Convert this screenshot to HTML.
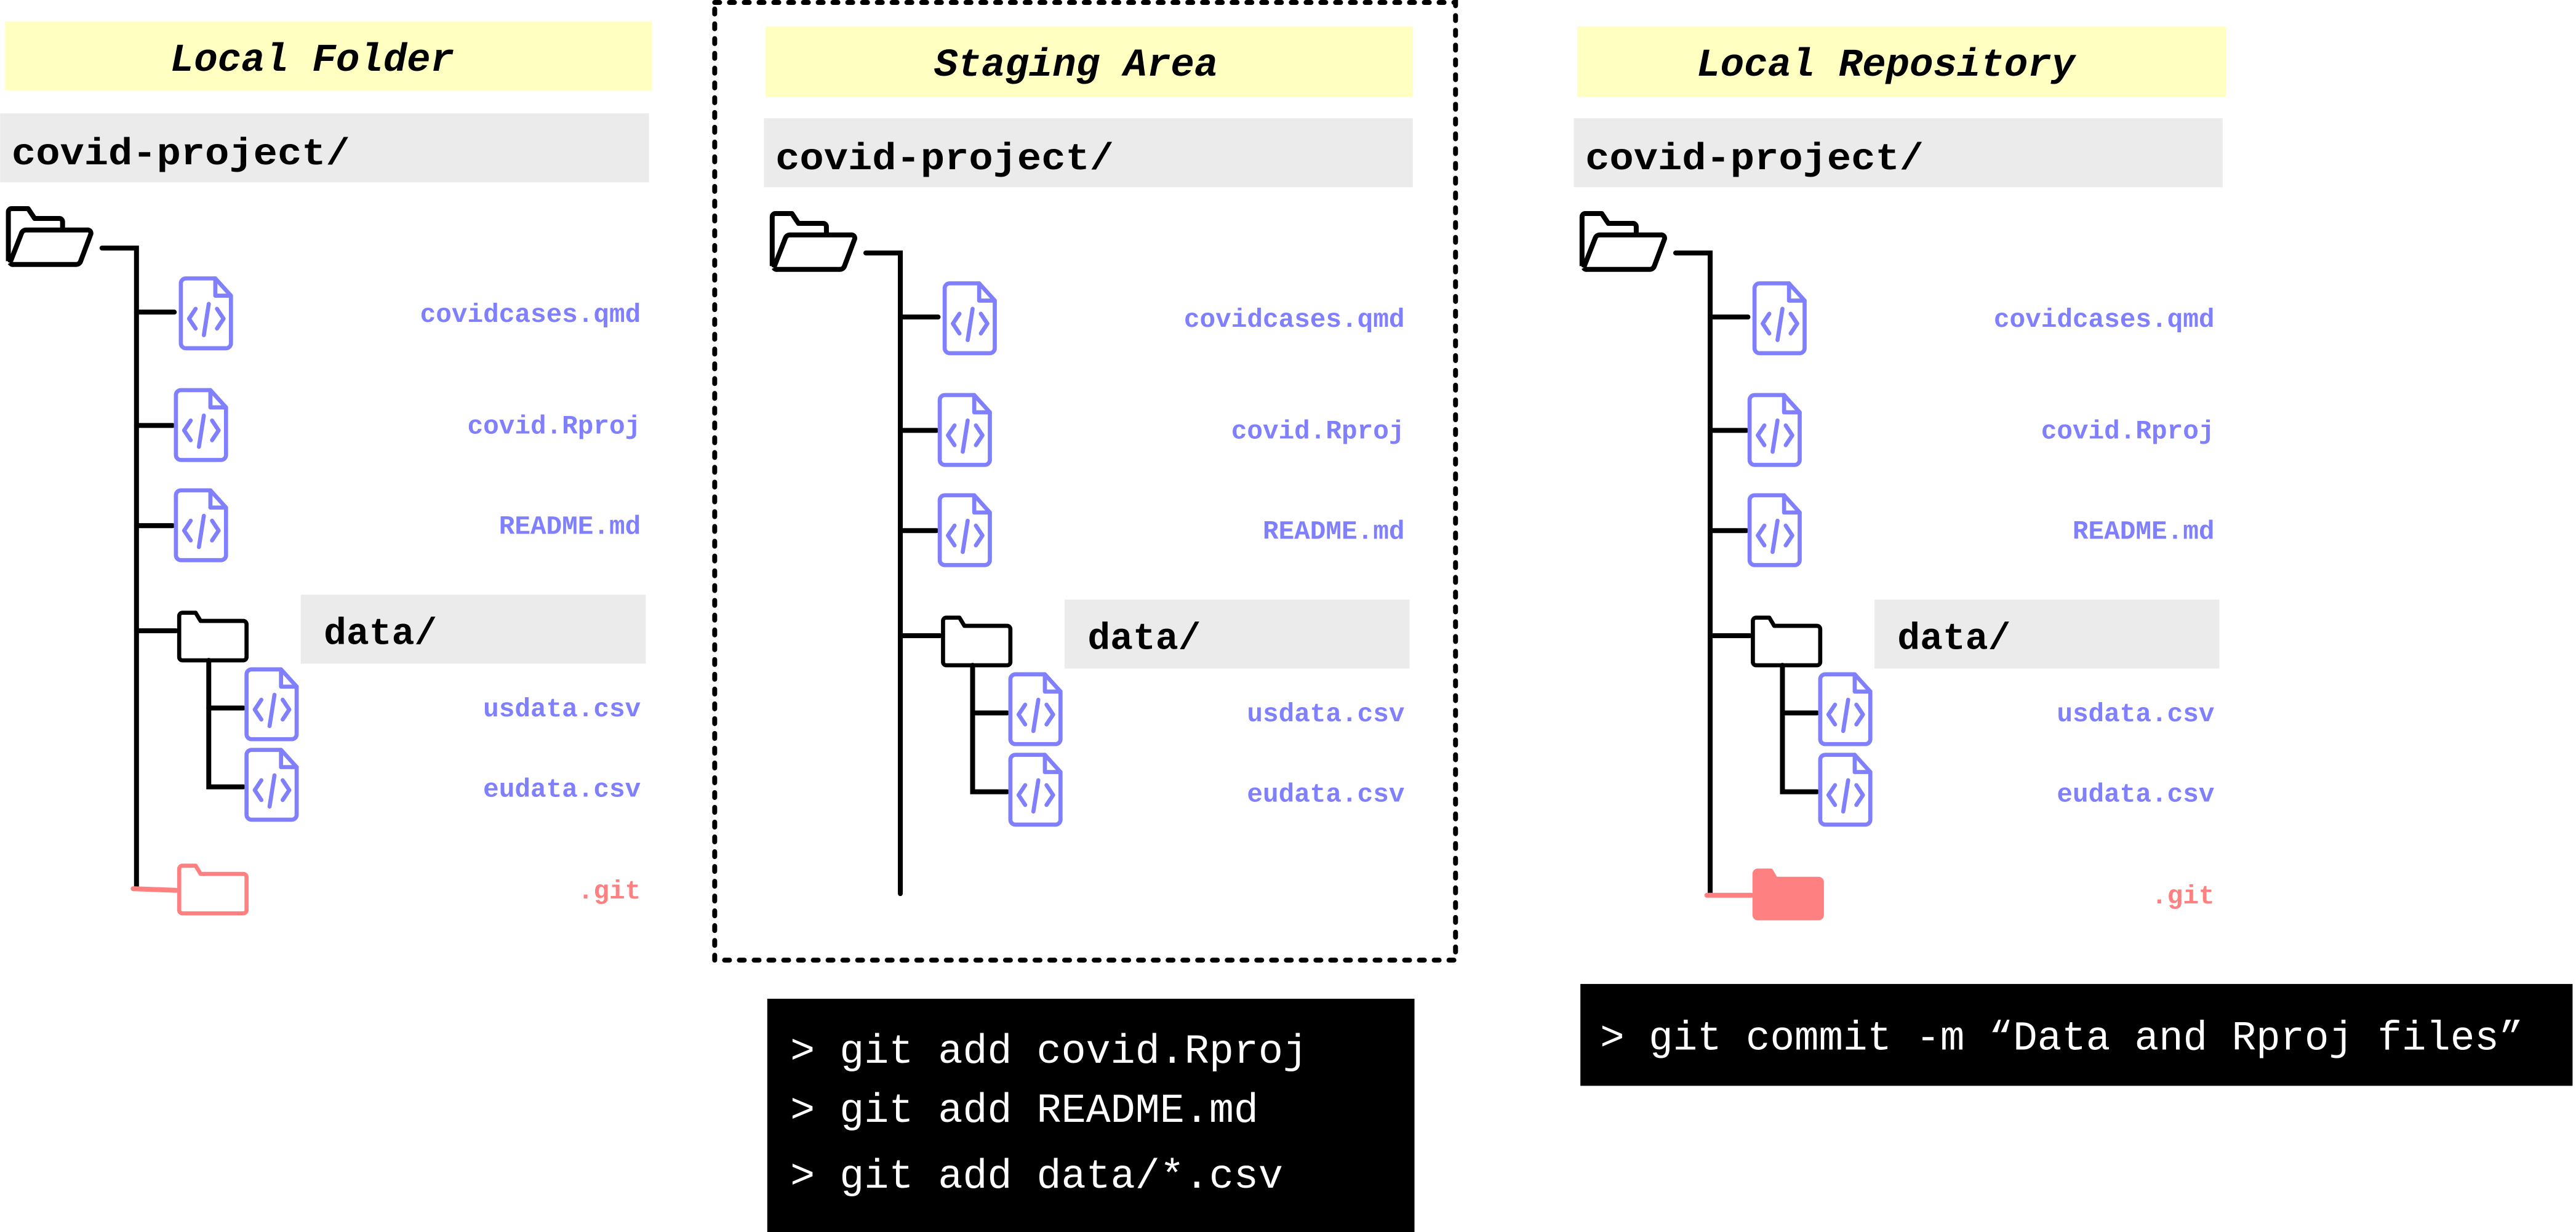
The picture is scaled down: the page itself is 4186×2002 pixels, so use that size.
<!DOCTYPE html>
<html><head><meta charset="utf-8"><style>
html,body{margin:0;padding:0;background:#fff;}
svg{display:block;}
.t{font-family:"Liberation Mono",monospace;font-weight:bold;}
.lab{font-family:"Liberation Mono",monospace;font-weight:bold;font-size:16px;fill:#8080ff;}
.cmd{font-family:"Liberation Mono",monospace;font-size:25px;fill:#fff;}
</style></head><body>
<svg width="4186" height="2002" viewBox="0 0 1568 750" xmlns="http://www.w3.org/2000/svg">
<defs>
<g id="file" fill="none" stroke="#8080ff" stroke-width="2.5" stroke-linejoin="round" stroke-linecap="round">
<path d="M5,1.5 H23 L32.5,12 V41 a3,3 0 0 1 -3,3 H5 a3,3 0 0 1 -3,-3 V4.5 a3,3 0 0 1 3,-3 Z"/>
<path d="M23,1.5 V12 H32.5"/>
<polyline points="11,20 7,26 11,32"/><polyline points="24,20 28,26 24,32"/><line x1="19" y1="17" x2="16" y2="36"/>
</g>
<path id="folder" d="M2,3 a2,2 0 0 1 2,-2 H12 L15,6 H41 a2,2 0 0 1 2,2 V28 a2,2 0 0 1 -2,2 H4 a2,2 0 0 1 -2,-2 Z" stroke-width="2.5" stroke-linejoin="round"/>
<g id="open" fill="none" stroke="#000" stroke-width="3" stroke-linejoin="round">
<path d="M2,34 V4 a2,2 0 0 1 2,-2 H14 L18,8 H33 a2,2 0 0 1 2,2 V15"/>
<path d="M3,35 L10,17 a3,3 0 0 1 3,-2 H50 a2,2 0 0 1 2,3 L46,34 a3,3 0 0 1 -3,2 H5 a2,2 0 0 1 -2,-1"/>
</g>
<g id="tree">
<rect x="0" y="69" width="395" height="42" fill="#ebebeb"/>
<text class="t" x="7" y="100" font-size="23" textLength="206" lengthAdjust="spacingAndGlyphs">covid-project/</text>
<use href="#open" x="3" y="125"/>
<g stroke="#000" stroke-width="3" fill="none" stroke-linecap="round">
<polyline points="62,151 83,151 83,541"/>
<line x1="83" y1="190" x2="106" y2="190"/>
<line x1="83" y1="259" x2="105" y2="259"/>
<line x1="83" y1="320" x2="105" y2="320"/>
<line x1="83" y1="384" x2="107" y2="384"/>
<polyline points="127,402 127,479 148,479"/>
<line x1="127" y1="431" x2="148" y2="431"/>
</g>
<use href="#file" x="108" y="168"/>
<use href="#file" x="105" y="236"/>
<use href="#file" x="105" y="297"/>
<use href="#folder" x="107" y="372" fill="none" stroke="#000"/>
<rect x="183" y="362" width="210" height="42" fill="#ebebeb"/>
<text class="t" x="197" y="392" font-size="23">data/</text>
<use href="#file" x="148" y="406"/>
<use href="#file" x="148" y="455"/>
<text class="lab" x="390" y="196" text-anchor="end">covidcases.qmd</text>
<text class="lab" x="390" y="264" text-anchor="end">covid.Rproj</text>
<text class="lab" x="390" y="325" text-anchor="end">README.md</text>
<text class="lab" x="390" y="436" text-anchor="end">usdata.csv</text>
<text class="lab" x="390" y="485" text-anchor="end">eudata.csv</text>
</g>
</defs>

<!-- Column 1 -->
<rect x="3" y="13" width="394" height="42" fill="#ffffc2"/>
<text class="t" x="190" y="43" font-size="24" font-style="italic" text-anchor="middle">Local Folder</text>
<use href="#tree"/>
<line x1="81" y1="541" x2="107" y2="542" stroke="#ff8080" stroke-width="3" stroke-linecap="round"/>
<use href="#folder" x="107" y="526" fill="none" stroke="#ff8080"/>
<text class="lab" x="390" y="547" text-anchor="end" style="fill:#ff8080">.git</text>

<!-- Column 2 -->
<rect x="435" y="1.5" width="451" height="583" fill="none" stroke="#000" stroke-width="3" stroke-dasharray="3 6" stroke-linecap="round"/>
<rect x="466" y="16" width="394" height="43" fill="#ffffc2"/>
<text class="t" x="655" y="46" font-size="24" font-style="italic" text-anchor="middle">Staging Area</text>
<g transform="translate(465,3)"><use href="#tree"/></g>
<rect x="467" y="608" width="394" height="142" fill="#000"/>
<text class="cmd" x="481" y="647">&gt; git add covid.Rproj</text>
<text class="cmd" x="481" y="683">&gt; git add README.md</text>
<text class="cmd" x="481" y="723">&gt; git add data/*.csv</text>

<!-- Column 3 -->
<rect x="960" y="16" width="395" height="43" fill="#ffffc2"/>
<text class="t" x="1148" y="46" font-size="24" font-style="italic" text-anchor="middle">Local Repository</text>
<g transform="translate(958,3)"><use href="#tree"/></g>
<line x1="1039" y1="545" x2="1066" y2="545" stroke="#ff8080" stroke-width="3" stroke-linecap="round"/>
<use href="#folder" x="1066" y="529" fill="#ff8080" stroke="#ff8080"/>
<text class="lab" x="1348" y="550" text-anchor="end" style="fill:#ff8080">.git</text>
<rect x="962" y="599" width="604" height="62" fill="#000"/>
<text class="cmd" x="974" y="639" textLength="562" lengthAdjust="spacingAndGlyphs">&gt; git commit -m “Data and Rproj files”</text>
</svg>
</body></html>
